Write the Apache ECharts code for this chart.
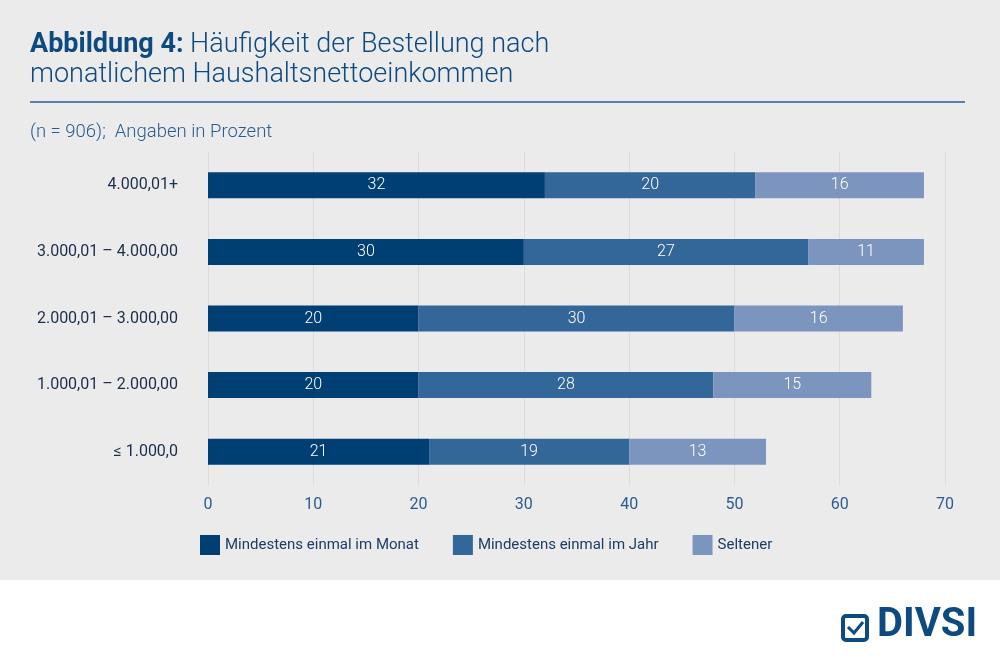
<!DOCTYPE html>
<html><head><meta charset="utf-8">
<script src="https://cdn.jsdelivr.net/npm/echarts@6/dist/echarts.min.js"></script>
<style>html,body{margin:0;padding:0;background:#fff}#c{width:1000px;height:663px}</style>
</head><body><div id="c"></div>
<script>
var categories = ['≤ 1.000,0', '1.000,01 – 2.000,00', '2.000,01 – 3.000,00', '3.000,01 – 4.000,00', '4.000,01+'];
var monat = [21, 20, 20, 30, 32];
var jahr = [19, 28, 30, 27, 20];
var seltener = [13, 15, 16, 11, 16];
var seriesNames = ['Mindestens einmal im Monat', 'Mindestens einmal im Jahr', 'Seltener'];
var colors = ['#003f74', '#336699', '#7b95bf'];
var font = 'Roboto';

var myChart = echarts.init(document.getElementById('c'));

function barSeries(name, data, color) {
	return {
		name: name, type: 'bar', stack: 'a', data: data, barWidth: 26,
		itemStyle: { color: color },
		label: { show: true, position: 'inside', color: '#fff', fontSize: 16, fontFamily: font, fontWeight: 300 }
	};
}

myChart.setOption({
	animation: false,
	color: colors,
	graphic: [
		{ type: 'rect', shape: { x: 0, y: 0, width: 1000, height: 580 }, style: { fill: '#ebebeb' }, z: -10 },
		{ type: 'text', left: 30, top: 30, style: { text: '{b|Abbildung 4:} Häufigkeit der Bestellung nach\nmonatlichem Haushaltsnettoeinkommen', fill: '#0c4a80', font: '300 27px Roboto', lineHeight: 30,
			rich: { b: { fontWeight: 'bold', fontSize: 27, fontFamily: font, fill: '#0c4a80' } } } },
		{ type: 'line', shape: { x1: 30, y1: 102, x2: 965, y2: 102 }, style: { stroke: '#2a5c91', lineWidth: 1.5 } },
		{ type: 'text', left: 30, top: 123, style: { text: '(n = 906);  Angaben in Prozent', fill: '#2a5c91', font: '300 18.5px Roboto' } },
		{ type: 'rect', shape: { x: 843, y: 616, width: 24, height: 24, r: 3 }, style: { fill: 'none', stroke: '#0c4a80', lineWidth: 4 } },
		{ type: 'polyline', shape: { points: [[848, 627], [854, 633], [863, 622]] }, style: { stroke: '#0c4a80', lineWidth: 3, fill: 'none' } },
		{ type: 'text', left: 877, top: 606, style: { text: 'DIVSI', fill: '#0c4a80', font: 'bold 40px Roboto' } }
	],
	legend: {
		data: seriesNames, bottom: 103, left: 195, itemWidth: 20, itemHeight: 20, itemGap: 34, icon: 'rect',
		textStyle: { fontSize: 15, fontFamily: font, color: '#1b3d66' }
	},
	grid: { left: 208, right: 55, top: 152, bottom: 178 },
	xAxis: {
		type: 'value', min: 0, max: 70, interval: 10,
		axisLabel: { fontSize: 16, fontFamily: font, color: '#2a5c91', margin: 12 },
		splitLine: { lineStyle: { color: '#dcdcdc' } },
		axisLine: { show: false }, axisTick: { show: false }
	},
	yAxis: {
		type: 'category', data: categories,
		axisLabel: { fontSize: 16, fontFamily: font, color: '#1b2f4a', margin: 30 },
		axisLine: { show: false }, axisTick: { show: false }
	},
	series: [
		barSeries(seriesNames[0], monat, colors[0]),
		barSeries(seriesNames[1], jahr, colors[1]),
		barSeries(seriesNames[2], seltener, colors[2])
	]
});
</script></body></html>
